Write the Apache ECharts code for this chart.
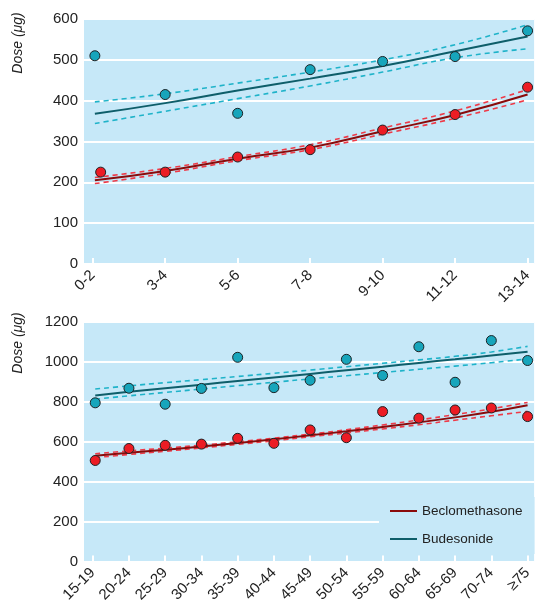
<!DOCTYPE html>
<html>
<head>
<meta charset="utf-8">
<script src="https://cdn.jsdelivr.net/npm/echarts@6/dist/echarts.min.js"></script>
<style>
  html, body { margin: 0; padding: 0; background: #fff; }
  #chart { width: 535px; height: 605px; }
</style>
</head>
<body>
<div id="chart"></div>
<script>
// children, by age group (years)
const childAgeGroups = ['0-2', '3-4', '5-6', '7-8', '9-10', '11-12', '13-14'];
const budChildX = [0.03, 1, 2, 3, 4, 5, 6];
const budChildDose = [510, 415, 369, 476, 496, 508, 571];
const becChildX = [0.11, 1, 2, 3, 4, 5, 6];
const becChildDose = [225, 225, 262, 280, 328, 366, 433];
const childFitX = [0.03, 1, 2, 3, 4, 5, 6];
const budChildFit = [368, 394, 425, 454, 485, 521, 557];
const budChildUpper = [397, 417, 443, 470, 500, 537, 586];
const budChildLower = [344, 374, 405, 436, 470, 505, 527];
const becChildFit = [205, 228, 258, 285, 325, 365, 415];
const becChildUpper = [212, 234, 263, 292, 333, 375, 427];
const becChildLower = [197, 222, 253, 280, 318, 357, 402];

// adults, by age group (years)
const adultAgeGroups = ['15-19', '20-24', '25-29', '30-34', '35-39', '40-44', '45-49',
  '50-54', '55-59', '60-64', '65-69', '70-74', '≥75'];
const adultX = [0.07, 1, 2, 3, 4, 5, 6, 7, 8, 9, 10, 11, 12];
const budAdultDose = [795, 868, 788, 867, 1023, 871, 908, 1013, 932, 1076, 898, 1107, 1007];
const becAdultDose = [506, 566, 582, 588, 617, 592, 659, 620, 751, 718, 759, 769, 726];
const adultFitX = [0.07, 1, 2, 3, 4, 5, 6, 7, 8, 9, 10, 11, 12];
const budAdultFit = [832, 850, 868, 886, 904, 922, 940, 958, 976, 995, 1013, 1032, 1051];
const budAdultUpper = [864, 880, 896, 911, 927, 943, 959, 976, 993, 1010, 1028, 1050, 1078];
const budAdultLower = [813, 830, 847, 864, 881, 898, 915, 931, 947, 963, 979, 996, 1015];
const becAdultFit = [530, 545, 560, 576, 594, 612, 632, 652, 674, 697, 722, 750, 783];
const becAdultUpper = [540, 554, 568, 583, 600, 618, 638, 660, 684, 709, 736, 765, 797];
const becAdultLower = [520, 536, 552, 569, 587, 605, 625, 644, 664, 685, 708, 730, 752];

const FONT = "'Liberation Sans', Arial, sans-serif";
const BG = '#c6e8f8';
const TEAL_DARK = '#0e5e6a';
const TEAL = '#1fb3c9';
const TEAL_PT = '#17a5bb';
const RED_DARK = '#8a0b0b';
const RED = '#ee3a48';
const RED_PT = '#ec1c24';

const zip = (xs, ys) => ys.map((y, i) => [xs[i], y]);

function xAxisFor(gridIndex, labels, min, max) {
  const ticks = labels.map((_, i) => i);
  return {
    gridIndex, type: 'value', min, max,
    axisLine: { show: false },
    splitLine: { show: false },
    axisTick: { show: true, inside: true, length: 6, customValues: ticks, lineStyle: { color: '#fff', width: 2 } },
    axisLabel: {
      customValues: ticks, rotate: 45, margin: 9,
      fontFamily: FONT, fontSize: 15, color: '#222',
      formatter: v => labels[Math.round(v)] || ''
    }
  };
}

function yAxisFor(gridIndex, max, interval) {
  return {
    gridIndex, type: 'value', min: 0, max, interval,
    axisLine: { show: false },
    axisTick: { show: false },
    axisLabel: { margin: 6, fontFamily: FONT, fontSize: 15, color: '#222', formatter: v => String(v) },
    splitLine: { lineStyle: { color: '#fff', width: 2 } }
  };
}

function lineSeries(name, idx, xs, ys, color, dashed) {
  return {
    name, type: 'line', xAxisIndex: idx, yAxisIndex: idx,
    data: zip(xs, ys), smooth: true, symbol: 'none', color,
    silent: true, z: dashed ? 2 : 3,
    lineStyle: { color, width: dashed ? 1.6 : 2, type: dashed ? [5, 4] : 'solid' }
  };
}

function pointSeries(name, idx, xs, ys, color) {
  return {
    name, type: 'scatter', xAxisIndex: idx, yAxisIndex: idx,
    data: zip(xs, ys), symbolSize: 10, z: 5,
    itemStyle: { color, opacity: 1, borderColor: '#1b2326', borderWidth: 1 }
  };
}

const chart = echarts.init(document.getElementById('chart'));
chart.setOption({
  animation: false,
  textStyle: { fontFamily: FONT },
  grid: [
    { left: 84, right: 0, top: 19, height: 245, show: true, backgroundColor: BG, borderWidth: 0 },
    { left: 84, right: 0, top: 322, height: 245, show: true, backgroundColor: BG, borderWidth: 0 }
  ],
  xAxis: [
    xAxisFor(0, childAgeGroups, -0.12, 6.09),
    xAxisFor(1, adultAgeGroups, -0.24, 12.18)
  ],
  yAxis: [
    yAxisFor(0, 600, 100),
    yAxisFor(1, 1200, 200)
  ],
  legend: {
    data: ['Beclomethasone', 'Budesonide'],
    orient: 'vertical', left: 379, top: 497,
    backgroundColor: BG, padding: [7, 12, 8, 11],
    icon: 'rect', itemWidth: 27, itemHeight: 2, itemGap: 14,
    textStyle: { fontFamily: FONT, fontSize: 13.5, color: '#222' }
  },
  graphic: [
    { type: 'text', x: 18, y: 43, rotation: Math.PI / 2,
      style: { text: 'Dose (μg)', fontFamily: FONT, fontSize: 14, fontStyle: 'italic', fill: '#222', align: 'center', verticalAlign: 'middle' } },
    { type: 'text', x: 18, y: 343, rotation: Math.PI / 2,
      style: { text: 'Dose (μg)', fontFamily: FONT, fontSize: 14, fontStyle: 'italic', fill: '#222', align: 'center', verticalAlign: 'middle' } }
  ],
  series: [
    lineSeries('Beclomethasone', 0, childFitX, becChildFit, RED_DARK, false),
    lineSeries('Budesonide', 0, childFitX, budChildFit, TEAL_DARK, false),
    lineSeries('Beclomethasone upper', 0, childFitX, becChildUpper, RED, true),
    lineSeries('Beclomethasone lower', 0, childFitX, becChildLower, RED, true),
    lineSeries('Budesonide upper', 0, childFitX, budChildUpper, TEAL, true),
    lineSeries('Budesonide lower', 0, childFitX, budChildLower, TEAL, true),
    pointSeries('Budesonide children', 0, budChildX, budChildDose, TEAL_PT),
    pointSeries('Beclomethasone children', 0, becChildX, becChildDose, RED_PT),

    lineSeries('Beclomethasone', 1, adultFitX, becAdultFit, RED_DARK, false),
    lineSeries('Budesonide', 1, adultFitX, budAdultFit, TEAL_DARK, false),
    lineSeries('Beclomethasone upper', 1, adultFitX, becAdultUpper, RED, true),
    lineSeries('Beclomethasone lower', 1, adultFitX, becAdultLower, RED, true),
    lineSeries('Budesonide upper', 1, adultFitX, budAdultUpper, TEAL, true),
    lineSeries('Budesonide lower', 1, adultFitX, budAdultLower, TEAL, true),
    pointSeries('Budesonide adults', 1, adultX, budAdultDose, TEAL_PT),
    pointSeries('Beclomethasone adults', 1, adultX, becAdultDose, RED_PT)
  ]
});
</script>
</body>
</html>
